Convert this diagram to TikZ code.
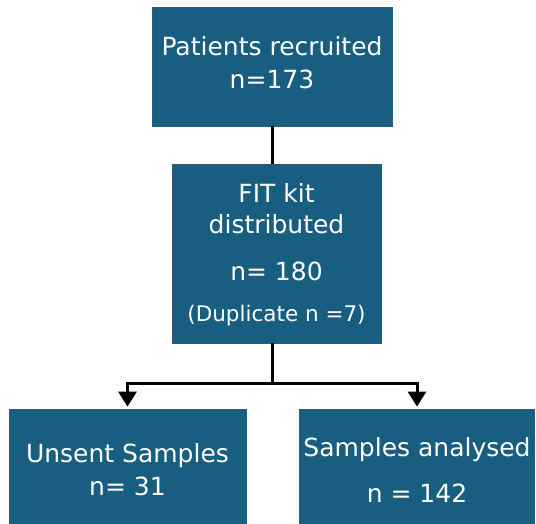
\documentclass[tikz,border=0pt]{standalone}
\usepackage{fontspec}
\setmainfont{DejaVu Sans}
\usetikzlibrary{arrows.meta}
\definecolor{boxfill}{HTML}{185E80}
\definecolor{boxedge}{HTML}{2A5F7C}
\begin{document}
\begin{tikzpicture}[x=1pt,y=-1pt,
  box/.style={draw=boxedge, line width=0.8pt, fill=boxfill, inner sep=0pt},
  lbl/.style={text=white, anchor=base, inner sep=0pt, font=\fontsize{25}{30}\selectfont},
  small/.style={lbl, font=\fontsize{21.5}{26}\selectfont},
  link/.style={line width=3pt, black},
  arr/.style={link, -{Triangle[width=18pt,length=15pt]}, shorten >=2pt}]
\useasboundingbox (0,0) rectangle (536,523);

% boxes
\node[box, minimum width=240pt, minimum height=119pt] (recruit) at (272,66.5) {};
\node[box, minimum width=209pt, minimum height=179pt] (fit) at (276.5,253.5) {};
\node[box, minimum width=237pt, minimum height=115pt] (unsent) at (127.5,466.5) {};
\node[box, minimum width=235pt, minimum height=115pt] (analysed) at (417,466.5) {};

% box texts
\node[lbl] (recruitA) at (272,55) {Patients recruited};
\node[lbl] (recruitB) at (272,88) {n=173};
\node[lbl] (fitA) at (276.5,202.7) {FIT kit};
\node[lbl] (fitB) at (276.5,233) {distributed};
\node[lbl] (fitC) at (276.5,280) {n= 180};
\node[small] (fitD) at (276.5,321) {(Duplicate n =7)};
\node[lbl] (unsentA) at (127.5,462) {Unsent Samples};
\node[lbl] (unsentB) at (127.5,495) {n= 31};
\node[lbl] (analysedA) at (417,456) {Samples analysed};
\node[lbl] (analysedB) at (417,502) {n = 142};

% connectors
\coordinate (split) at (272,383.5);
\draw[link] (recruit.south) -- (recruit.south |- fit.north);
\draw[link] (split |- fit.south) -- (split);
\draw[arr] (split) -| (unsent.north);
\draw[arr] (split) -| (analysed.north);
\end{tikzpicture}
\end{document}
